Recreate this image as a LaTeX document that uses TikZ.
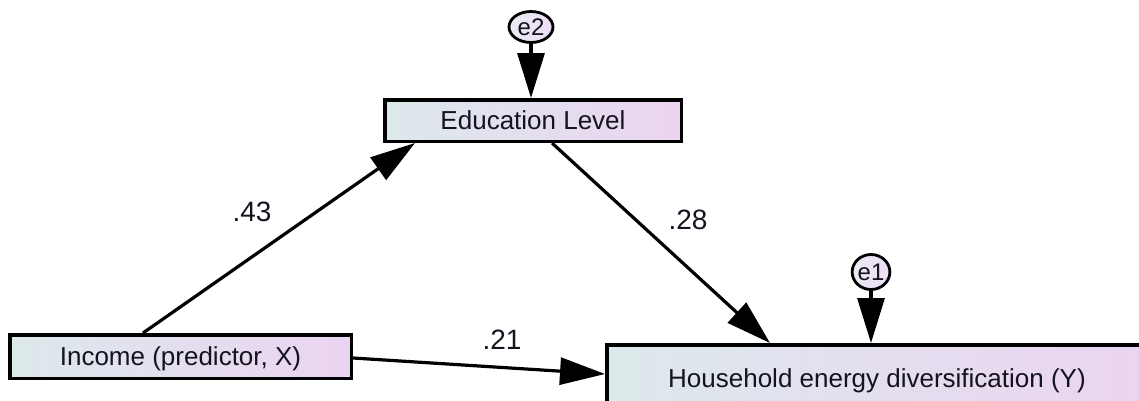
\documentclass[tikz,border=0pt]{standalone}
\usepackage{fontspec}
\setmainfont{Liberation Sans}
\usetikzlibrary{arrows.meta,shapes.geometric,calc}

\definecolor{boxL}{HTML}{DCE9EB}
\definecolor{boxR}{HTML}{EBD4F1}
\definecolor{errL}{HTML}{E8ECF2}
\definecolor{errR}{HTML}{EEDDF5}
\definecolor{ink}{HTML}{15131F}

\begin{document}
\begin{tikzpicture}[x=1pt,y=-1pt,
  varbox/.style={draw=black, line width=3.5pt, rectangle, inner sep=0pt,
    left color=boxL, right color=boxR, text=ink,
    font=\fontsize{26}{30}\selectfont, text height=18.6pt, text depth=0pt},
  errvar/.style={draw=black, line width=2.8pt, ellipse, inner sep=0pt,
    left color=errL, right color=errR, text=ink,
    font=\fontsize{24}{28}\selectfont, text height=17.2pt, text depth=0pt},
  regarrow/.style={draw=black, line width=3.2pt,
    -{Triangle[length=45pt,width=27pt]}},
  coef/.style={font=\fontsize{28}{32}\selectfont, inner sep=0pt, text=ink}
]
\useasboundingbox (0,0) rectangle (1139,400);
\clip (0,0) rectangle (1139,400);

% observed variables
\node[varbox, minimum width=296.5pt, minimum height=41.5pt] (edu) at (533,120.5) {Education Level};
\node[varbox, minimum width=341.5pt, minimum height=43.5pt] (inc) at (180.5,356.5) {Income (predictor, X)};
\node[varbox, minimum width=540.5pt, minimum height=66.5pt] (hh) at (877,378) {Household energy diversification (Y)};

% error terms
\node[errvar, minimum width=44pt, minimum height=31pt] (e2) at (531,27) {e2};
\node[errvar, minimum width=35pt, minimum height=35pt] (e1) at (871,272) {e1};

% regression paths
\draw[regarrow] ([xshift=135pt]inc.north west) -- ([xshift=32pt]edu.south west);
\draw[regarrow] ([xshift=169pt]edu.south west) -- ([xshift=165pt]hh.north west);
\draw[regarrow] ([yshift=-1.5pt]inc.east) -- ([yshift=4pt]hh.west);

% error paths
\draw[regarrow] (e2.south) -- (edu.north -| e2);
\draw[regarrow] (e1.south) -- (hh.north -| e1);

% path coefficients
\node[coef] (c43) at (252,212) {.43};
\node[coef] (c28) at (688,220) {.28};
\node[coef] (c21) at (502,340) {.21};
\end{tikzpicture}
\end{document}
